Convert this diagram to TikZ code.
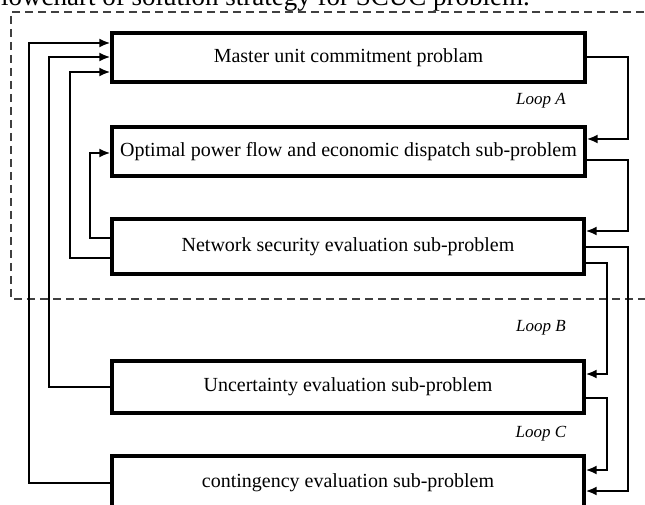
\documentclass[tikz,border=0pt]{standalone}
\usepackage{fontspec}
\setmainfont{Liberation Serif}
\usetikzlibrary{arrows.meta}
\begin{document}
\begin{tikzpicture}[x=1pt,y=-1pt,
  box/.style={draw, line width=3.4pt, minimum width=473pt, inner sep=0pt, font=\fontsize{20}{24}\selectfont},
  conn/.style={line width=2pt},
  arr/.style={conn, -{Latex[length=11pt,width=9pt]}},
  looplabel/.style={font=\fontsize{17}{20}\selectfont\itshape},
  frame/.style={dash pattern=on 8pt off 5pt, line width=1.5pt, black!75}]
\useasboundingbox (0,0) rectangle (645,505);
% title (cropped by the page, as in the reference)
\node[anchor=base west, inner sep=0pt, font=\fontsize{27}{30}\selectfont] (title) at (-8,6) {flowchart of solution strategy for SCUC problem.};
% dashed frame
\coordinate (f1) at (670,12);
\coordinate (f2) at (11,12);
\coordinate (f3) at (11,299);
\coordinate (f4) at (670,299);
\draw[frame] (f1) -- (f2) -- (f3) -- (f4);
% boxes
\node[box, minimum height=49pt] (m) at (348.5,57.5) {Master unit commitment problam};
\node[box, minimum height=49pt] (o) at (348.5,151.5) {Optimal power flow and economic dispatch sub-problem};
\node[box, minimum width=472pt, minimum height=55pt] (n) at (348,246.5) {Network security evaluation sub-problem};
\node[box, minimum width=472pt, minimum height=52pt] (u) at (348,387) {Uncertainty evaluation sub-problem};
\node[box, minimum width=472pt, minimum height=54pt] (c) at (348,483) {contingency evaluation sub-problem};
% loop labels
\node[looplabel] (la) at (541,101) {Loop A};
\node[looplabel] (lb) at (541,328) {Loop B};
\node[looplabel] (lc) at (541,434) {Loop C};
% right-hand connectors
\draw[arr] (m.east) -- ++(41,0) |- (o.east |- 0,139);
\draw[arr] (o.east |- 0,160) -- ++(41,0) |- (n.east |- 0,231);
\draw[arr] (n.east |- 0,247) -- ++(42,0) |- (c.east |- 0,491);
\draw[arr] (n.east |- 0,263) -- ++(21,0) |- (u.east |- 0,374);
\draw[arr] (u.east |- 0,398) -- ++(21,0) |- (c.east |- 0,470);
% left-hand connectors
\draw[arr] (n.west |- 0,238) -- ++(-20,0) |- (o.west |- 0,153);
\draw[arr] (n.west |- 0,258) -- ++(-40,0) |- (m.west |- 0,72);
\draw[arr] (u.west) -- ++(-61,0) |- (m.west |- 0,57);
\draw[arr] (c.west) -- ++(-81,0) |- (m.west |- 0,43);
\end{tikzpicture}
\end{document}
